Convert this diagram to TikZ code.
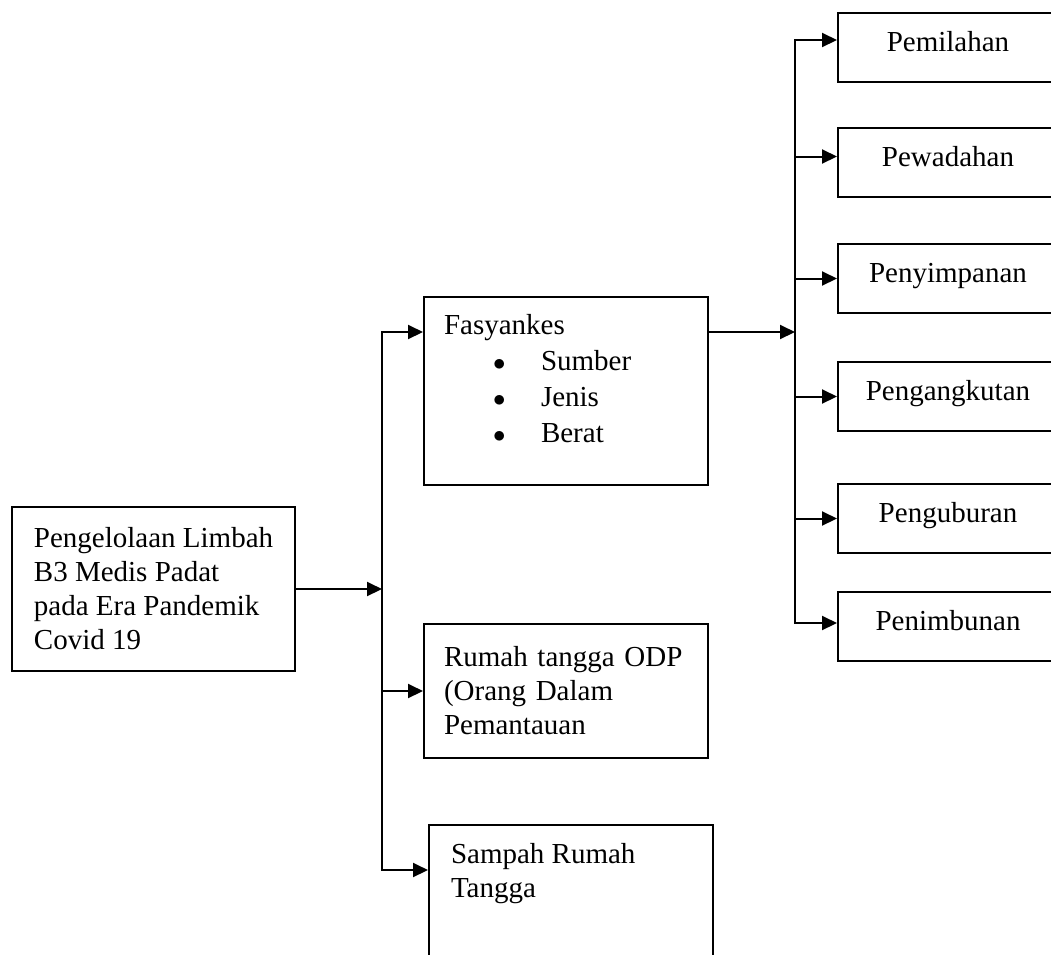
\documentclass[tikz,border=0pt]{standalone}
\usepackage{fontspec}
\setmainfont{Liberation Serif}
\usetikzlibrary{arrows.meta, positioning}

\begin{document}
\begin{tikzpicture}[
            x = 1pt, y = -1pt,
            > = {Triangle[length=15pt, width=14pt]},
            line width = 2pt,
            font = \fontsize{29}{34}\selectfont
        ]

        \tikzstyle{box}=[
            draw = black,
            line width = 2pt,
            inner sep = 0pt,
            anchor = north west
        ]
        \tikzstyle{stepbox}=[
            box,
            minimum width = 220pt,
            minimum height = 69pt,
            text height = 13pt,
            text depth = 6pt
        ]
        \tikzstyle{boxtext}=[anchor = north west, inner sep = 0pt, align = left]

        \useasboundingbox (0,0) rectangle (1051,954);

        % left column
        \node[box, minimum width=283pt, minimum height=164pt, align=left] (src) at (11,506)
            {Pengelolaan Limbah\\B3 Medis Padat\\pada Era Pandemik\\Covid 19};

        % middle column
        \node[box, minimum width=284pt, minimum height=188pt] (fas) at (423,296) {};
        \node[boxtext, font=\fontsize{29}{36}\selectfont] (fastext) at ([xshift=20pt, yshift=-17pt]fas.north west)
            {Fasyankes\\
             \hspace*{49pt}\makebox[48pt][l]{$\bullet$}Sumber\\
             \hspace*{49pt}\makebox[48pt][l]{$\bullet$}Jenis\\
             \hspace*{49pt}\makebox[48pt][l]{$\bullet$}Berat};
        \node[box, text width=244pt, inner xsep=20pt, minimum height=134pt, align=left] (rum) at (423,623)
            {Rumah tangga ODP\\(Orang Dalam\\Pemantauan};
        \node[box, minimum width=284pt, minimum height=150pt] (sam) at (428,824) {};
        \node[boxtext] (samtext) at ([xshift=22pt, yshift=-18pt]sam.north west) {Sampah Rumah\\Tangga};

        % right column
        \node[stepbox] (pemilahan) at (837,12) {Pemilahan};
        \node[stepbox] (pewadahan) at (837,127) {Pewadahan};
        \node[stepbox] (penyimpanan) at (837,243) {Penyimpanan};
        \node[stepbox] (pengangkutan) at (837,361) {Pengangkutan};
        \node[stepbox] (penguburan) at (837,483) {Penguburan};
        \node[stepbox] (penimbunan) at (837,591) {Penimbunan};

        \coordinate (ltop) at (382,332);
        \coordinate (lbot) at (382,870);
        \coordinate (rtop) at (795,40);
        \coordinate (rbot) at (795,623);

        \draw[<->] (ltop -| fas.west) -- (ltop) -- (lbot) -- (lbot -| sam.west);
        \draw[->] (src.east) -- (src.east -| ltop);
        \draw[->] (ltop |- rum.west) -- (rum.west);

        \draw[<->] (rtop -| pemilahan.west) -- (rtop) -- (rbot) -- (rbot -| penimbunan.west);
        \draw[->] (ltop -| fas.east) -- (ltop -| rtop);
        \draw[->] ([yshift=6pt]pewadahan.west -| rtop) -- ([yshift=6pt]pewadahan.west);
        \draw[->] (rtop |- penyimpanan.west) -- (penyimpanan.west);
        \draw[->] (rtop |- pengangkutan.west) -- (pengangkutan.west);
        \draw[->] (rtop |- penguburan.west) -- (penguburan.west);

    \end{tikzpicture}
\end{document}
